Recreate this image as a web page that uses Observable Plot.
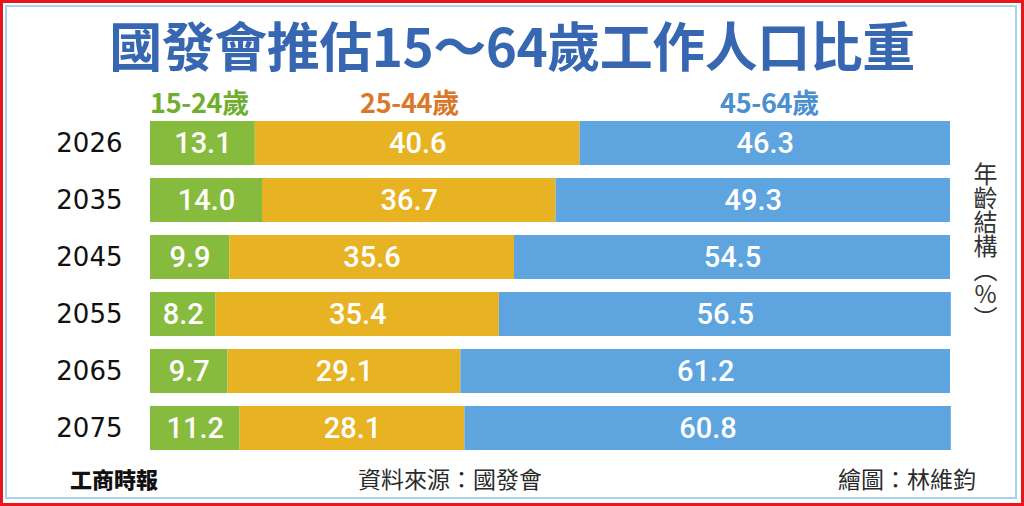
<!DOCTYPE html>
<html>
<head>
<meta charset="utf-8">
<script src="https://cdn.jsdelivr.net/npm/d3@7"></script>
<script src="https://cdn.jsdelivr.net/npm/@observablehq/plot@0.6"></script>
<style>
  html, body { margin: 0; padding: 0; background: #fff; }
  #frame { position: relative; width: 1024px; height: 506px; overflow: hidden; background: #fff;
           font-family: "Noto Sans CJK TC", "Noto Sans", sans-serif; }
  .abs { position: absolute; white-space: nowrap; }
  #border-red { position: absolute; left: 0; top: 0; width: 1024px; height: 506px; box-sizing: border-box; border: 3px solid #e5161c; pointer-events: none; }
  #border-blue { position: absolute; left: 5px; top: 5px; width: 1012px; height: 494px; box-sizing: border-box; border: 2px solid #a9d2ec; pointer-events: none; }
  #title { left: 0; width: 1024px; top: 18px; text-align: center; font-size: 53px; line-height: 52px; font-weight: 700; color: #3767b1; letter-spacing: -0.5px; }
  .legend { top: 89px; font-size: 27px; line-height: 26px; font-weight: 700; letter-spacing: -0.3px; }
  .foot { top: 464px; font-size: 23px; line-height: 28px; color: #2a2a2a; }
  #vert { left: 972px; top: 162px; font-size: 24px; line-height: 26px; color: #333; writing-mode: vertical-rl; text-orientation: upright; }
  #chart { position: absolute; left: 0; top: 107px; }
</style>
</head>
<body>
<div id="frame">
  <div id="title" class="abs">國發會推估15～64歲工作人口比重</div>
  <div id="legend"></div>
  <div id="chart"></div>
  <div id="vert" class="abs">年齡結構（%）</div>
  <div class="abs foot" style="left:70px;font-weight:900;font-size:22px;color:#111;">工商時報</div>
  <div class="abs foot" style="left:358px;">資料來源：國發會</div>
  <div class="abs foot" style="left:838px;">繪圖：林維鈞</div>
  <div id="border-blue"></div>
  <div id="border-red"></div>
</div>
<script>
const years = ["2026", "2035", "2045", "2055", "2065", "2075"];
const groups = ["15-24歲", "25-44歲", "45-64歲"];
const young = [13.1, 14.0, 9.9, 8.2, 9.7, 11.2];
const middle = [40.6, 36.7, 35.6, 35.4, 29.1, 28.1];
const older = [46.3, 49.3, 54.5, 56.5, 61.2, 60.8];
const barColors = ["#86bb3d", "#e7b323", "#5ea4df"];
const legendColors = ["#6fae2e", "#d9782a", "#4a8fd0"];
const legendLeft = [150, 360, 720];

const series = [young, middle, older];
const rows = [];
years.forEach((y, i) => {
  groups.forEach((g, j) => rows.push({year: y, group: g, value: series[j][i]}));
});

const fmt = d3.format(".1f");

const legend = document.getElementById("legend");
groups.forEach((g, j) => {
  const el = document.createElement("div");
  el.className = "abs legend";
  el.style.left = legendLeft[j] + "px";
  el.style.color = legendColors[j];
  el.textContent = g;
  legend.appendChild(el);
});

const chart = Plot.plot({
  width: 1024,
  height: 356,
  marginLeft: 150,
  marginRight: 74,
  marginTop: 0,
  marginBottom: 0,
  style: {background: "transparent", overflow: "visible"},
  x: {domain: [0, 100], axis: null},
  y: {domain: years, padding: 0.231, label: null},
  color: {domain: groups, range: barColors},
  marks: [
    Plot.barX(rows, Plot.stackX({x: "value", y: "year", fill: "group", z: "group"})),
    Plot.text(rows, Plot.stackX({
      x: "value", y: "year", z: "group",
      text: d => fmt(d.value),
      fill: "white",
      fontSize: 29,
      fontWeight: 500,
      fontFamily: "Roboto, sans-serif"
    })),
    Plot.axisY({
      tickSize: 0,
      tickPadding: 28,
      fontSize: 26,
      fontFamily: "'DejaVu Sans', sans-serif",
      color: "#111",
      label: null
    })
  ]
});
document.getElementById("chart").appendChild(chart);
</script>
</body>
</html>
